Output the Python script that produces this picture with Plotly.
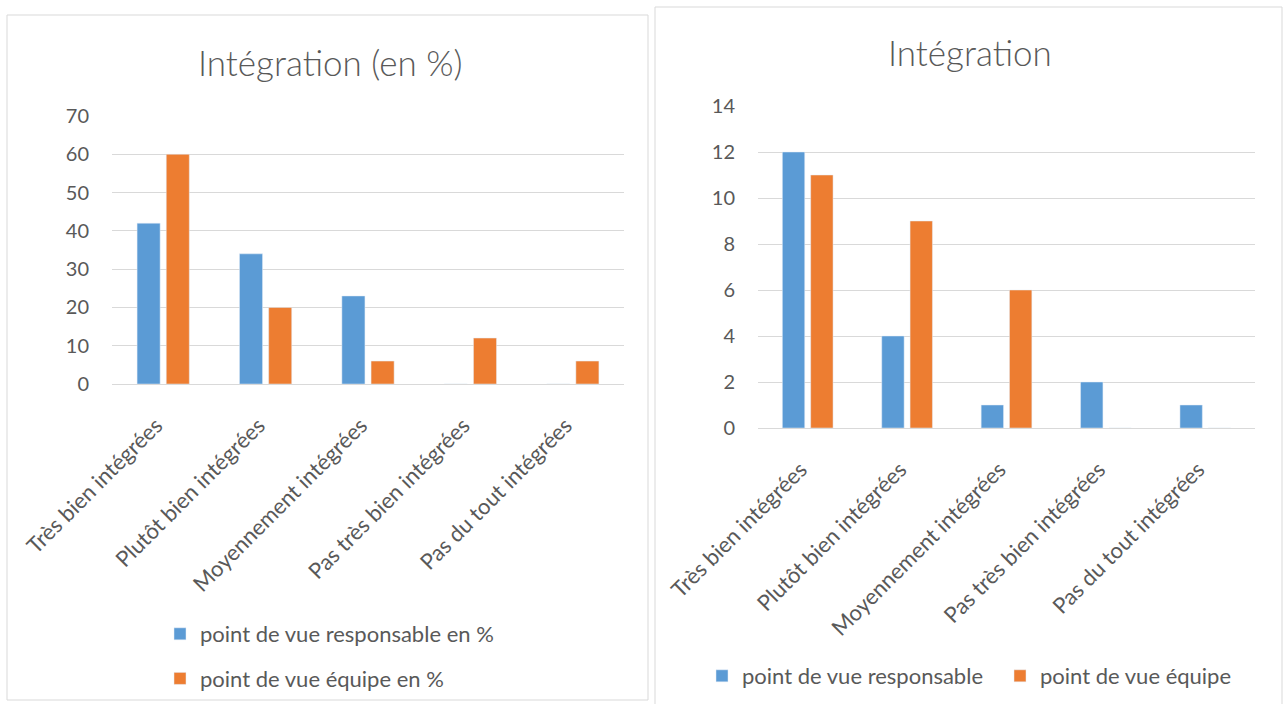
import plotly.graph_objects as go

categories = ["Très bien intégrées", "Plutôt bien intégrées", "Moyennement intégrées",
              "Pas très bien intégrées", "Pas du tout intégrées"]

# Left chart (percentages)
resp_pct = [42, 34, 23, 0, 0]
equipe_pct = [60, 20, 6, 12, 6]
left_ticks = [0, 10, 20, 30, 40, 50, 60, 70]

# Right chart (counts)
resp_n = [12, 4, 1, 2, 1]
equipe_n = [11, 9, 6, 0, 0]
right_ticks = [0, 2, 4, 6, 8, 10, 12, 14]

BLUE = "#5B9BD5"
ORANGE = "#ED7D31"
TXT = "#595959"
GRID = "#D9D9D9"
FONT = "Lato"
W, H = 1288, 704

def px(x):
    return x / W

def py(y):
    return 1 - y / H

fig = go.Figure()

fig.add_trace(go.Bar(x=categories, y=resp_pct, name="point de vue responsable en %",
                     marker=dict(color=BLUE),
                     xaxis="x", yaxis="y", legend="legend", legendgroup="a"))
fig.add_trace(go.Bar(x=categories, y=equipe_pct, name="point de vue équipe en %",
                     marker=dict(color=ORANGE),
                     xaxis="x", yaxis="y", legend="legend", legendgroup="b"))
fig.add_trace(go.Bar(x=categories, y=resp_n, name="point de vue responsable",
                     marker=dict(color=BLUE),
                     xaxis="x2", yaxis="y2", legend="legend2"))
fig.add_trace(go.Bar(x=categories, y=equipe_n, name="point de vue équipe",
                     marker=dict(color=ORANGE),
                     xaxis="x2", yaxis="y2", legend="legend2"))

ytick_font = dict(family=FONT, size=20, color=TXT)
xtick_font = dict(family=FONT, size=22, color=TXT)
leg_font = dict(family=FONT, size=22, color=TXT)

fig.update_layout(
    width=W, height=H,
    margin=dict(l=0, r=0, t=0, b=0, autoexpand=False),
    paper_bgcolor="white", plot_bgcolor="white",
    barmode="group", bargap=0.43, bargroupgap=0.21,
    font=dict(family=FONT, color=TXT),
    xaxis=dict(domain=[px(112), px(624)], anchor="y", tickangle=-45, tickfont=xtick_font,
               showgrid=False, showline=True, linecolor=GRID, linewidth=1, ticks="",
               ticklabelstandoff=19, ticklabelshift=-7, automargin=False),
    yaxis=dict(domain=[py(384), py(116)], anchor="x", range=[0, 70], tickvals=left_ticks,
               tickfont=ytick_font, showgrid=True, gridcolor=GRID, gridwidth=1,
               zeroline=False, showline=False, ticklabelstandoff=22, automargin=False),
    xaxis2=dict(domain=[px(758), px(1255)], anchor="y2", tickangle=-45, tickfont=xtick_font,
                showgrid=False, showline=True, linecolor=GRID, linewidth=1, ticks="",
                ticklabelstandoff=19, ticklabelshift=-7, automargin=False),
    yaxis2=dict(domain=[py(428), py(106)], anchor="x2", range=[0, 14], tickvals=right_ticks,
                tickfont=ytick_font, showgrid=True, gridcolor=GRID, gridwidth=1,
                zeroline=False, showline=False, ticklabelstandoff=22, automargin=False),
    legend=dict(x=px(160), y=py(613), xanchor="left", yanchor="top", orientation="v",
                font=leg_font, tracegroupgap=13,
                bgcolor="rgba(0,0,0,0)", itemwidth=30),
    legend2=dict(x=px(702), y=py(676), xanchor="left", yanchor="middle", orientation="h",
                 font=leg_font, entrywidth=253,
                 bgcolor="rgba(0,0,0,0)", itemwidth=30),
    annotations=[
        dict(text="Intégration (en %)", x=px(330), y=py(62), xref="paper", yref="paper",
             xanchor="center", yanchor="middle", showarrow=False,
             font=dict(family=FONT, size=35, color=TXT, weight=300)),
        dict(text="Intégration", x=px(970), y=py(52), xref="paper", yref="paper",
             xanchor="center", yanchor="middle", showarrow=False,
             font=dict(family=FONT, size=35, color=TXT, weight=300)),
    ],
    shapes=[
        dict(type="rect", xref="paper", yref="paper", x0=px(7), x1=px(648), y0=py(700), y1=py(15),
             line=dict(color=GRID, width=1), fillcolor="rgba(0,0,0,0)", layer="below"),
        dict(type="rect", xref="paper", yref="paper", x0=px(655), x1=px(1282), y0=py(706), y1=py(7),
             line=dict(color=GRID, width=1), fillcolor="rgba(0,0,0,0)", layer="below"),
    ],
)

fig.write_html("out.html")
